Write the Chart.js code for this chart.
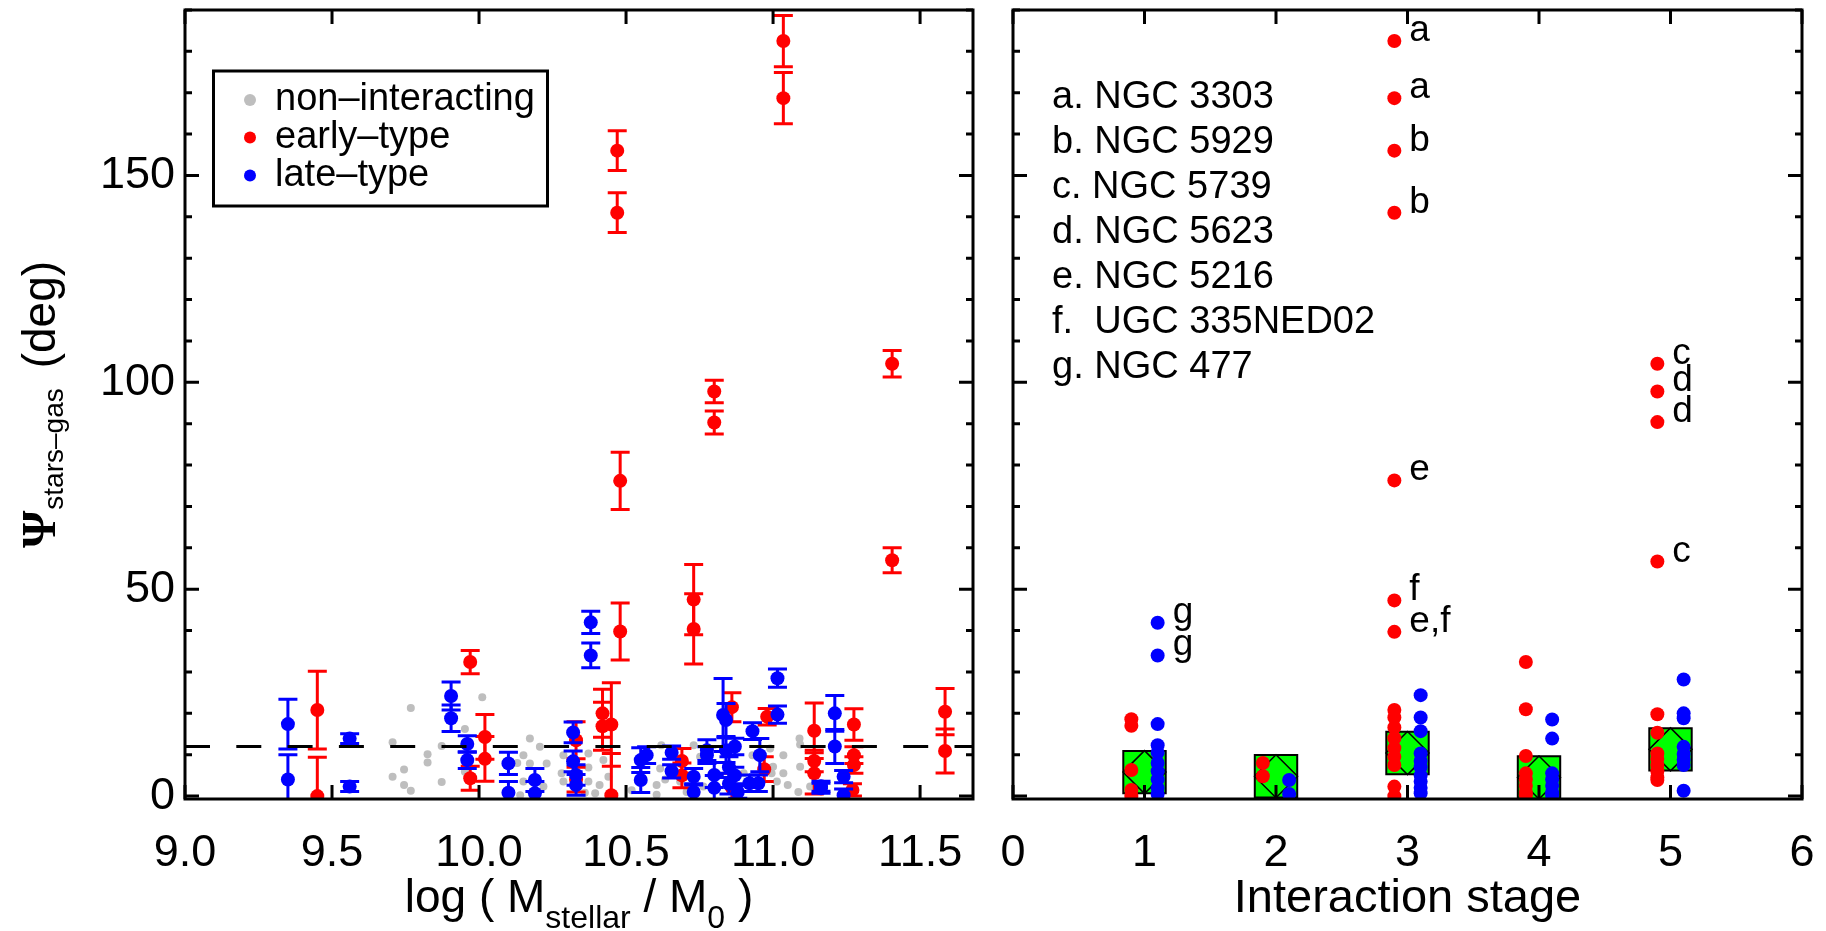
<!DOCTYPE html>
<html>
<head>
<meta charset="utf-8">
<script src="https://cdn.jsdelivr.net/npm/chart.js@4.4.1/dist/chart.umd.min.js"></script>
<style>
  html, body { margin: 0; padding: 0; background: #fff; }
  body { width: 1826px; height: 931px; position: relative; overflow: hidden; }
  canvas { position: absolute; top: 0; }
  #massChart { left: 0; }
  #stageChart { left: 990px; }
</style>
</head>
<body>
<canvas id="massChart" width="990" height="931"></canvas>
<canvas id="stageChart" width="836" height="931"></canvas>
<script>
// early-type galaxies: log stellar mass, stars-gas misalignment and its error
const earlyMass = [9.45, 9.45, 9.97, 9.97, 10.02, 10.02, 10.33, 10.33, 10.42, 10.42, 10.45, 10.45, 10.47, 10.47, 10.48, 10.48, 10.69, 10.69, 10.73, 10.73, 10.80, 10.80, 10.86, 10.86, 10.98, 10.97, 11.035, 11.035, 11.14, 11.14, 11.14, 11.275, 11.275, 11.275, 11.27, 11.405, 11.405, 11.585, 11.585];
const earlyPsi = [20.8, 0.0, 32.4, 4.3, 14.3, 9.0, 13.5, 4.0, 20.0, 16.9, 17.3, 0.2, 156.0, 141.0, 76.2, 39.8, 8.5, 5.0, 47.5, 40.4, 97.8, 90.3, 21.5, 2.0, 19.2, 6.5, 182.5, 168.7, 15.8, 8.5, 5.5, 17.3, 9.9, 7.5, 1.5, 104.5, 57.0, 20.4, 10.9];
const earlyErr = [9.4, 9.4, 2.8, 2.9, 5.4, 5.4, 4.5, 3.0, 5.8, 5.8, 10.1, 10.1, 4.8, 4.8, 6.9, 6.9, 3.0, 3.0, 8.5, 8.5, 2.7, 2.8, 3.5, 3.5, 2.0, 3.0, 6.2, 6.2, 6.7, 2.6, 5.0, 3.8, 2.0, 2.0, 1.5, 3.2, 3.0, 5.6, 5.3];

// late-type galaxies
const lateMass = [9.35, 9.35, 9.56, 9.56, 9.905, 9.905, 9.96, 9.96, 10.10, 10.10, 10.19, 10.19, 10.32, 10.32, 10.33, 10.33, 10.38, 10.38, 10.55, 10.55, 10.57, 10.655, 10.655, 10.73, 10.73, 10.775, 10.775, 10.80, 10.80, 10.83, 10.84, 10.84, 10.85, 10.85, 10.87, 10.87, 10.88, 10.92, 10.93, 10.95, 10.955, 11.015, 11.015, 11.163, 11.163, 11.21, 11.21, 11.24, 11.24];
const latePsi = [17.4, 4.0, 13.9, 2.3, 24.2, 18.8, 12.6, 8.7, 7.9, 0.8, 3.9, 0.7, 15.4, 8.4, 5.1, 2.7, 42.0, 34.0, 8.7, 3.9, 9.9, 10.5, 6.0, 4.7, 1.0, 9.9, 11.1, 5.1, 2.0, 19.6, 18.4, 11.1, 7.0, 3.0, 12.0, 5.0, 1.0, 3.1, 15.7, 3.1, 9.9, 28.5, 19.7, 1.9, 2.4, 20.0, 12.0, 4.7, 0.2];
const lateErr = [6.0, 6.0, 1.2, 1.2, 3.4, 3.2, 2.0, 2.0, 2.7, 2.7, 2.8, 2.8, 2.5, 2.5, 2.5, 2.5, 2.7, 3.0, 3.0, 3.0, 2.0, 1.6, 1.6, 2.0, 2.0, 2.0, 2.5, 3.0, 3.0, 8.8, 4.0, 3.0, 2.5, 2.5, 2.0, 2.0, 1.5, 2.0, 2.0, 2.0, 4.0, 2.2, 2.1, 1.2, 1.2, 4.3, 4.1, 1.5, 1.5];

// non-interacting comparison sample
const nonMass = [9.706, 9.706, 9.745, 9.745, 9.768, 9.768, 9.825, 9.825, 9.873, 9.873, 9.952, 9.952, 10.011, 10.13, 10.14, 10.151, 10.151, 10.173, 10.173, 10.207, 10.219, 10.23, 10.281, 10.287, 10.287, 10.36, 10.372, 10.372, 10.372, 10.395, 10.41, 10.423, 10.44, 10.519, 10.604, 10.604, 10.616, 10.62, 10.633, 10.684, 10.706, 10.73, 10.752, 10.763, 10.90, 10.91, 10.93, 10.99, 10.995, 11.0, 11.013, 11.035, 11.035, 11.05, 11.086, 11.09, 11.092, 11.092, 11.126];
const nonPsi = [13.0, 4.7, 6.4, 2.7, 21.3, 1.3, 10.1, 8.1, 12.1, 3.4, 16.2, 5.9, 23.9, 8.0, 0.2, 9.9, 3.5, 13.9, 7.9, 11.9, 2.3, 7.9, 5.5, 9.9, 3.5, 0.8, 10.3, 6.9, 3.5, 0.7, 2.7, 8.7, 4.7, 1.4, 2.7, 0.3, 6.7, 12.3, 4.0, 3.5, 1.0, 12.3, 9.5, 2.3, 5.5, 3.5, 9.9, 11.5, 5.5, 7.1, 3.5, 9.9, 5.5, 2.7, 1.0, 13.9, 12.5, 7.1, 2.3];

// median misalignment of the non-interacting sample (dashed line)
const nonMedian = 12;

// interaction stage panel
const earlyStage = [1, 1, 1, 1, 1, 2, 2, 3, 3, 3, 3, 3, 3, 3, 3, 3, 3, 3, 3, 3, 3, 3, 3, 4, 4, 4, 4, 4, 4, 4, 4, 5, 5, 5, 5, 5, 5, 5, 5, 5, 5, 5, 5];
const earlyStagePsi = [18.6, 17.0, 6.3, 1.5, 0.0, 8.0, 4.8, 182.5, 168.7, 156.0, 141.0, 76.3, 47.3, 39.7, 20.8, 19.0, 16.6, 14.0, 11.6, 9.5, 7.5, 2.3, 0.0, 32.4, 21.0, 9.7, 5.5, 4.0, 2.5, 1.0, 0.2, 104.5, 97.8, 90.4, 56.7, 19.8, 15.3, 10.3, 9.0, 7.5, 6.0, 4.5, 3.9];
const lateStage = [1, 1, 1, 1, 1, 1, 1, 1, 1, 1, 2, 2, 3, 3, 3, 3, 3, 3, 3, 3, 3, 3, 4, 4, 4, 4, 4, 4, 4, 5, 5, 5, 5, 5, 5, 5, 5];
const lateStagePsi = [41.9, 34.0, 17.4, 12.3, 10.5, 8.0, 6.0, 4.0, 2.0, 0.5, 3.9, 0.5, 24.4, 19.0, 15.7, 10.3, 8.5, 7.0, 5.0, 3.5, 2.0, 0.7, 18.5, 13.9, 5.5, 4.0, 2.5, 1.0, 0.2, 28.2, 20.0, 18.8, 11.9, 10.2, 8.8, 7.5, 1.3];
const stages = [1, 2, 3, 4, 5];
const stageMedian = [5.8, 4.8, 10.4, 4.5, 11.3];

// letters marking individual galaxies
const noteStage = [3, 3, 3, 3, 3, 3, 3, 5, 5, 5, 5, 1, 1];
const noteType = ['early', 'early', 'early', 'early', 'early', 'early', 'early', 'early', 'early', 'early', 'early', 'late', 'late'];
const notePsi = [182.5, 168.7, 156.0, 141.0, 76.3, 47.3, 39.7, 104.5, 97.8, 90.4, 56.7, 41.9, 34.0];
const noteText = ['a', 'a', 'b', 'b', 'e', 'f', 'e,f', 'c', 'd', 'd', 'c', 'g', 'g'];
const galaxyNames = ['a. NGC 3303', 'b. NGC 5929', 'c. NGC 5739', 'd. NGC 5623', 'e. NGC 5216', 'f.  UGC 335NED02', 'g. NGC 477'];

// axis labels
const massTicks = [9.0, 9.5, 10.0, 10.5, 11.0, 11.5];
const stageTicks = [0, 1, 2, 3, 4, 5, 6];
const psiTicks = [0, 50, 100, 150];
const legendLabels = ['non\u2013interacting', 'early\u2013type', 'late\u2013type'];

const RED = '#ff0000', BLUE = '#0000ff', GREY = '#bebebe', GREEN = '#00ff00';
const FONT = "'Liberation Sans', Arial, Helvetica, sans-serif";
const PSI_MIN = -0.7, PSI_MAX = 190;

Chart.defaults.font.family = FONT;
Chart.defaults.color = '#000';

function pairs(xs, ys, errs) {
    return xs.map((x, i) => ({ x: x, y: ys[i], err: errs ? errs[i] : 0 }));
}

// vertical error bars with caps, drawn right before their dataset
const errorBars = {
    id: 'errorBars',
    beforeDatasetDraw(chart, args) {
        const ds = chart.data.datasets[args.index];
        if (!ds.errorBars) return;
        const { ctx, chartArea: a, scales } = chart;
        ctx.save();
        ctx.beginPath();
        ctx.rect(a.left, a.top, a.right - a.left, a.bottom - a.top);
        ctx.clip();
        ctx.strokeStyle = ds.backgroundColor;
        ctx.lineWidth = 3;
        ds.data.forEach(p => {
            const x = scales.x.getPixelForValue(p.x);
            const hi = scales.y.getPixelForValue(p.y + p.err);
            const lo = scales.y.getPixelForValue(p.y - p.err);
            ctx.beginPath();
            ctx.moveTo(x, hi); ctx.lineTo(x, lo);
            ctx.moveTo(x - 9.5, hi); ctx.lineTo(x + 9.5, hi);
            ctx.moveTo(x - 9.5, lo); ctx.lineTo(x + 9.5, lo);
            ctx.stroke();
        });
        ctx.restore();
    }
};

// box around the plot with inward ticks on all four sides
const frame = {
    id: 'frame',
    afterDatasetsDraw(chart, args, opts) {
        const { ctx, chartArea: a, scales } = chart;
        ctx.save();
        ctx.strokeStyle = '#000';
        ctx.lineWidth = 3;
        ctx.beginPath();
        opts.xTicks.forEach(v => {
            const x = scales.x.getPixelForValue(v);
            ctx.moveTo(x, a.bottom); ctx.lineTo(x, a.bottom - 14);
            ctx.moveTo(x, a.top); ctx.lineTo(x, a.top + 14);
        });
        for (let v = 0; v <= scales.y.max; v += 10) {
            const y = scales.y.getPixelForValue(v);
            const len = v % 50 === 0 ? 14 : 7;
            ctx.moveTo(a.left, y); ctx.lineTo(a.left + len, y);
            ctx.moveTo(a.right, y); ctx.lineTo(a.right - len, y);
        }
        ctx.stroke();
        ctx.strokeRect(a.left, a.top, a.right - a.left, a.bottom - a.top);
        ctx.restore();
    }
};

// draw a run of [text, size, shift, font, gap] pieces starting at x
function drawPieces(ctx, pieces, x, y) {
    pieces.forEach(p => {
        ctx.font = p[3] || (p[1] + 'px ' + FONT);
        ctx.fillText(p[0], x, y + p[2]);
        x += ctx.measureText(p[0]).width + (p[4] || 0);
    });
}
function piecesWidth(ctx, pieces) {
    let w = 0;
    pieces.forEach(p => {
        ctx.font = p[3] || (p[1] + 'px ' + FONT);
        w += ctx.measureText(p[0]).width + (p[4] || 0);
    });
    return w;
}

// legend and axis titles of the mass panel
const massDecor = {
    id: 'massDecor',
    afterDraw(chart) {
        const ctx = chart.ctx;
        ctx.save();
        ctx.fillStyle = '#000';
        ctx.textBaseline = 'alphabetic';

        // legend box
        ctx.lineWidth = 3;
        ctx.strokeStyle = '#000';
        ctx.strokeRect(213.5, 71, 334, 135);
        const colors = [GREY, RED, BLUE];
        const rows = [100, 137.5, 175.5];
        legendLabels.forEach((t, i) => {
            ctx.fillStyle = colors[i];
            ctx.beginPath();
            ctx.arc(250, rows[i], 6, 0, Math.PI * 2);
            ctx.fill();
            ctx.fillStyle = '#000';
            ctx.font = '38px ' + FONT;
            ctx.fillText(t, 275, rows[i] + 10);
        });

        // x title
        const xt = [['log ( M', 46, 0], ['stellar', 32, 16], [' / M', 46, 0], ['0', 32, 16], [' )', 46, 0]];
        drawPieces(ctx, xt, 579 - piecesWidth(ctx, xt) / 2, 912);

        // y title, rotated
        const yt = [['\u03A8', 48, 0, "bold 48px 'Liberation Serif', 'DejaVu Serif', serif", 1],
                    ['stars\u2013gas', 28, 8, null, 20],
                    ['(deg)', 46, 0]];
        ctx.translate(55, 404.5);
        ctx.rotate(-Math.PI / 2);
        drawPieces(ctx, yt, -piecesWidth(ctx, yt) / 2, 0);
        ctx.restore();
    }
};

// galaxy list, point letters and x title of the stage panel
const stageDecor = {
    id: 'stageDecor',
    afterDraw(chart) {
        const { ctx, scales } = chart;
        ctx.save();
        ctx.fillStyle = '#000';
        ctx.textBaseline = 'alphabetic';
        ctx.font = '38px ' + FONT;
        galaxyNames.forEach((t, i) => ctx.fillText(t, 62, 108 + i * 45));

        ctx.font = '37px ' + FONT;
        noteText.forEach((t, i) => {
            const shift = noteType[i] === 'early' ? -0.1 : 0.1;
            const x = scales.x.getPixelForValue(noteStage[i] + shift) + 15;
            const y = scales.y.getPixelForValue(notePsi[i]);
            ctx.fillText(t, x, y);
        });

        ctx.font = '47px ' + FONT;
        ctx.textAlign = 'center';
        ctx.fillText('Interaction stage', 417.5, 912);
        ctx.restore();
    }
};

function psiAxis(width, showLabels) {
    return {
        type: 'linear', min: PSI_MIN, max: PSI_MAX,
        grid: { display: false, drawTicks: false }, border: { display: false },
        afterBuildTicks: s => { s.ticks = psiTicks.map(v => ({ value: v })); },
        afterFit: s => { s.width = width; s.paddingTop = 0; s.paddingBottom = 0; },
        ticks: { display: showLabels, font: { size: 45 }, color: '#000', padding: 10, autoSkip: false }
    };
}

function xAxis(min, max, ticks, fmt) {
    return {
        type: 'linear', position: 'bottom', min: min, max: max,
        grid: { display: false, drawTicks: false }, border: { display: false },
        afterBuildTicks: s => { s.ticks = ticks.map(v => ({ value: v })); },
        afterFit: s => { s.height = 132; s.paddingLeft = 0; s.paddingRight = 0; },
        ticks: { font: { size: 45 }, color: '#000', padding: 28, autoSkip: false, maxRotation: 0, callback: fmt }
    };
}

new Chart(document.getElementById('massChart'), {
    type: 'scatter',
    data: {
        datasets: [
            { label: 'non-interacting', data: pairs(nonMass, nonPsi), backgroundColor: GREY, borderWidth: 0, pointRadius: 4, order: 4 },
            { label: 'early-type', data: pairs(earlyMass, earlyPsi, earlyErr), backgroundColor: RED, borderWidth: 0, pointRadius: 7, errorBars: true, order: 3 },
            { label: 'late-type', data: pairs(lateMass, latePsi, lateErr), backgroundColor: BLUE, borderWidth: 0, pointRadius: 7, errorBars: true, order: 2 },
            { type: 'line', label: 'median', data: [{ x: 9.0, y: nonMedian }, { x: 11.68, y: nonMedian }],
              borderColor: '#000', borderWidth: 3, borderDash: [25, 26.3], pointRadius: 0, fill: false, order: 1 }
        ]
    },
    options: {
        responsive: false, animation: false, events: [], devicePixelRatio: 1,
        layout: { autoPadding: false, padding: { left: 0, top: 10, right: 17, bottom: 0 } },
        plugins: { legend: { display: false }, tooltip: { enabled: false }, frame: { xTicks: massTicks } },
        scales: {
            x: xAxis(9.0, 11.68, massTicks, v => v.toFixed(1)),
            y: psiAxis(185, true)
        }
    },
    plugins: [errorBars, frame, massDecor]
});

new Chart(document.getElementById('stageChart'), {
    type: 'scatter',
    data: {
        datasets: [
            { label: 'median box', data: stages.map((s, i) => ({ x: s, y: stageMedian[i] })), pointStyle: 'rect', pointRadius: 30,
              backgroundColor: GREEN, borderColor: '#000', borderWidth: 2, order: 5 },
            { label: 'median diamond', data: stages.map((s, i) => ({ x: s, y: stageMedian[i] })), pointStyle: 'rectRot', pointRadius: 21.5,
              backgroundColor: 'rgba(0,0,0,0)', borderColor: '#000', borderWidth: 1.5, order: 4 },
            { label: 'early-type', data: earlyStage.map((s, i) => ({ x: s - 0.1, y: earlyStagePsi[i] })), backgroundColor: RED, borderWidth: 0, pointRadius: 7, order: 3 },
            { label: 'late-type', data: lateStage.map((s, i) => ({ x: s + 0.1, y: lateStagePsi[i] })), backgroundColor: BLUE, borderWidth: 0, pointRadius: 7, order: 2 }
        ]
    },
    options: {
        responsive: false, animation: false, events: [], devicePixelRatio: 1,
        layout: { autoPadding: false, padding: { left: 0, top: 10, right: 24, bottom: 0 } },
        plugins: { legend: { display: false }, tooltip: { enabled: false }, frame: { xTicks: stageTicks } },
        scales: {
            x: xAxis(0, 6, stageTicks, v => String(v)),
            y: psiAxis(23, false)
        }
    },
    plugins: [frame, stageDecor]
});
</script>
</body>
</html>
